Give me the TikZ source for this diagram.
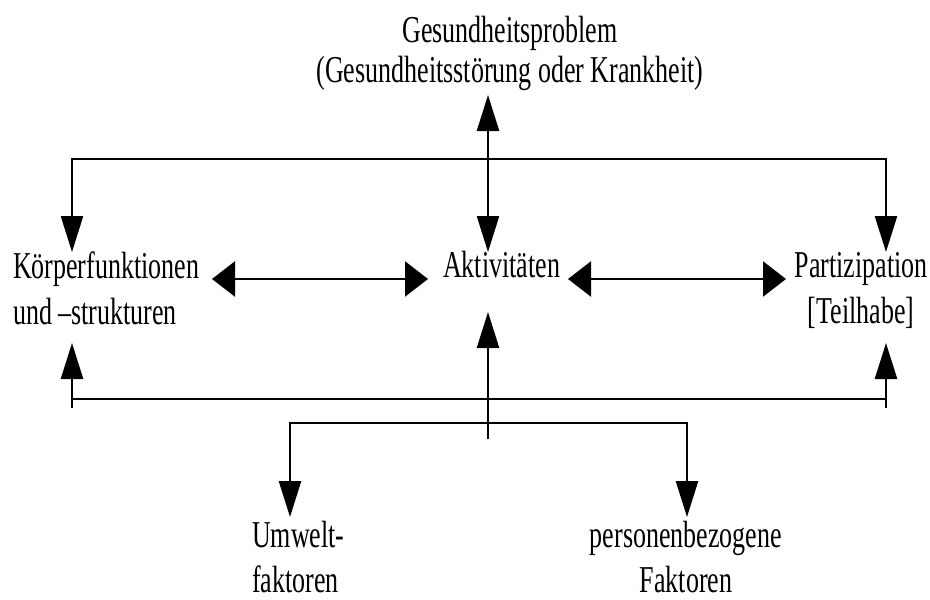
\documentclass[tikz,border=0pt]{standalone}
\usepackage{fontspec}
\setmainfont{Liberation Serif}
\newfontfamily\lblfont{Liberation Serif}
\usepackage{graphicx}
\usetikzlibrary{arrows.meta}
\newcommand{\lbltext}[3]{\scalebox{1}[1.46]{\lblfont\fontsize{26}{#1}\selectfont\begin{tabular}[t]{@{}#2@{}}#3\end{tabular}}}
\tikzset{
  vt/.tip={Triangle[length=36pt,width=22pt]},
  ht/.tip={Triangle[length=23pt,width=35pt]},
  lbl/.style={inner sep=0pt, outer sep=0pt},
  conn/.style={line width=2.5pt, line join=miter, black},
}
\begin{document}
\begin{tikzpicture}[x=1pt,y=-1pt]
\fill[white] (0,0) rectangle (930,600);
\useasboundingbox (0,0) rectangle (930,600);

% labels
\node[lbl, anchor=base] (gp) at (510,42) {\lbltext{28}{c}{Gesundheitsproblem\\(Gesundheitsstörung oder Krankheit)}};
\node[lbl, anchor=base west] (kf) at (13,278) {\lbltext{32}{l}{Körperfunktionen\\und –strukturen}};
\node[lbl, anchor=base] (akt) at (501.5,277) {\lbltext{32}{c}{Aktivitäten}};
\node[lbl, anchor=base] (part) at (861,277) {\lbltext{32}{c}{Partizipation\\{[Teilhabe]}}};
\node[lbl, anchor=base west] (umw) at (252,547) {\lbltext{31.5}{l}{Umwelt-\\faktoren}};
\node[lbl, anchor=base] (pers) at (686,547) {\lbltext{31.5}{c}{personenbezogene\\Faktoren}};

% junction and tip coordinates
\coordinate (gpTip) at (488,95);
\coordinate (aktTopTip) at (488,252);
\coordinate (aktBotTip) at (488,312);
\coordinate (stem) at (488,439);
\coordinate (topL) at (72,159);
\coordinate (topR) at (886,159);
\coordinate (kfTopTip) at (72,252);
\coordinate (partTopTip) at (886,252);
\coordinate (kfBotTip) at (72,343);
\coordinate (partBotTip) at (886,343);
\coordinate (botL) at (72,399);
\coordinate (botR) at (886,399);
\coordinate (botLo) at (72,408);
\coordinate (botRo) at (886,408);
\coordinate (kfRight) at (212,279);
\coordinate (aktLeft) at (428,279);
\coordinate (aktRight) at (568,279);
\coordinate (partLeft) at (786,279);
\coordinate (brL) at (290,423);
\coordinate (brR) at (687,423);
\coordinate (umwTip) at (290,517);
\coordinate (persTip) at (687,517);

% connectors
\draw[conn, vt-vt] (kfTopTip) -- (topL) -- (topR) -- (partTopTip);
\draw[conn, vt-vt] (gpTip) -- (aktTopTip);
\draw[conn, ht-ht] (kfRight) -- (aktLeft);
\draw[conn, ht-ht] (aktRight) -- (partLeft);
\draw[conn, vt-vt] (kfBotTip) -- (botL) -- (botR) -- (partBotTip);
\draw[conn] (botL) -- (botLo);
\draw[conn] (botR) -- (botRo);
\draw[conn, -vt] (stem) -- (aktBotTip);
\draw[conn, vt-vt] (umwTip) -- (brL) -- (brR) -- (persTip);
\end{tikzpicture}
\end{document}
